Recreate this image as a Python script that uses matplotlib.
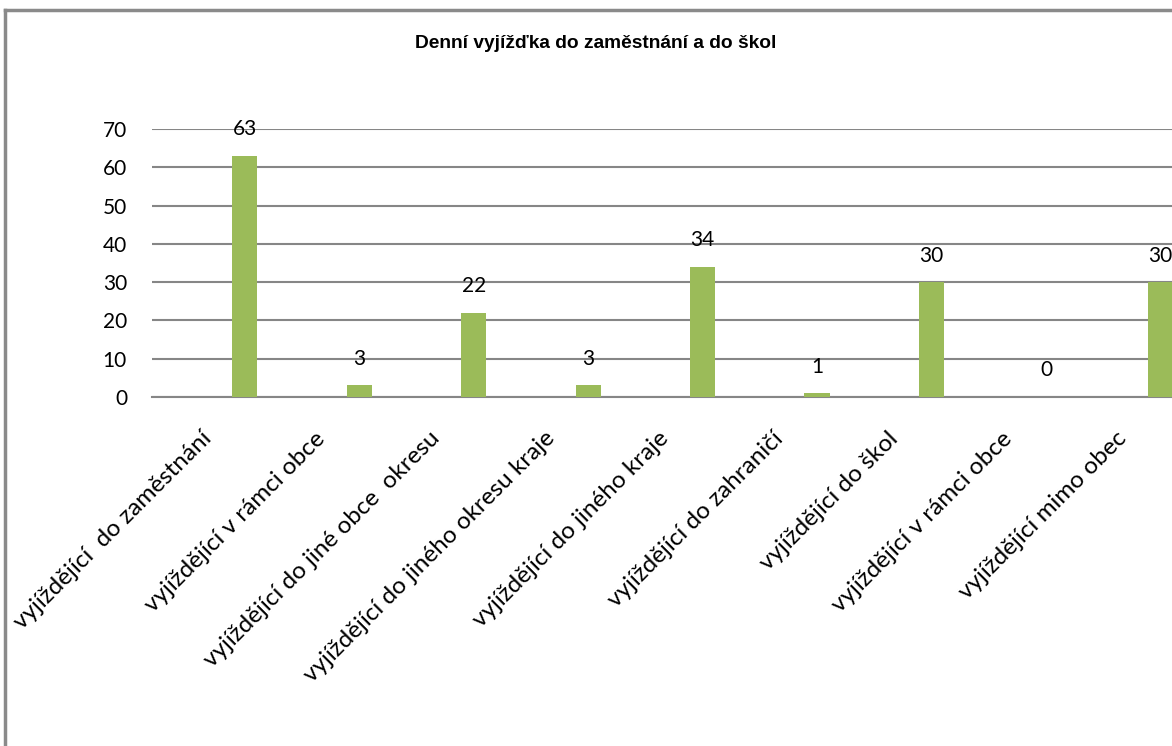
import matplotlib.pyplot as plt
from matplotlib.lines import Line2D
from matplotlib.transforms import ScaledTranslation
import numpy as np

# Data
categories = [
    'vyjíždějící  do zaměstnání',
    'vyjíždějící v rámci obce',
    'vyjíždějící do jiné obce  okresu',
    'vyjíždějící do jiného okresu kraje',
    'vyjíždějící do jiného kraje',
    'vyjíždějící do zahraničí',
    'vyjíždějící do škol',
    'vyjíždějící v rámci obce',
    'vyjíždějící mimo obec',
]
values = [63, 3, 22, 3, 34, 1, 30, 0, 30]
y_ticks = [0, 10, 20, 30, 40, 50, 60, 70]
title = 'Denní vyjížďka do zaměstnání a do škol'

bar_color = '#9BBB59'
grid_color = '#868686'

plt.rcParams['font.family'] = ['Lato', 'DejaVu Sans']

fig = plt.figure(figsize=(11.72, 7.46), dpi=100)
ax = fig.add_axes([0.1297, 0.468, 0.879, 0.359])

x = np.arange(len(categories))
bars = ax.bar(x + 0.31, values, width=0.22, color=bar_color, zorder=3)

# Value labels above bars
for xi, v in zip(x, values):
    ax.annotate(str(v), (xi + 0.31, v), xytext=(0, 19), textcoords='offset points',
                ha='center', va='center', fontsize=15, color='black')

ax.set_xlim(-0.5, 8.5)
ax.set_ylim(0, 70)
ax.set_yticks(y_ticks)
ax.set_xticks(x)
ax.set_xticklabels(categories, rotation=45, ha='right', rotation_mode='anchor', fontsize=17.5)
ax.tick_params(axis='y', length=0, pad=18, labelsize=15)
ax.tick_params(axis='x', length=0, pad=10)

# shift category labels a bit down/left like the original
shift = ScaledTranslation(-0.09, -0.17, fig.dpi_scale_trans)
for lab in ax.get_xticklabels():
    lab.set_transform(lab.get_transform() + shift)

# Gridlines
ax.yaxis.grid(True, color=grid_color, linewidth=1.5, zorder=0)
for s in ['top', 'right', 'left']:
    ax.spines[s].set_visible(False)
ax.spines['bottom'].set_color(grid_color)
ax.spines['bottom'].set_linewidth(1.5)

# Title
fig.text(0.5085, 0.942, title, ha='center', va='center', fontsize=13.8, fontweight='bold',
         family=['Liberation Sans Narrow', 'Liberation Sans', 'DejaVu Sans'])

# Chart border (cropped at right and bottom)
fig.add_artist(Line2D([0.0045, 1.0], [0.986, 0.986], color='#8a8a8a', linewidth=2.5,
                      transform=fig.transFigure))
fig.add_artist(Line2D([0.0045, 0.0045], [0.0, 0.986], color='#8a8a8a', linewidth=2.5,
                      transform=fig.transFigure))

fig.savefig('out.png', dpi=100)
